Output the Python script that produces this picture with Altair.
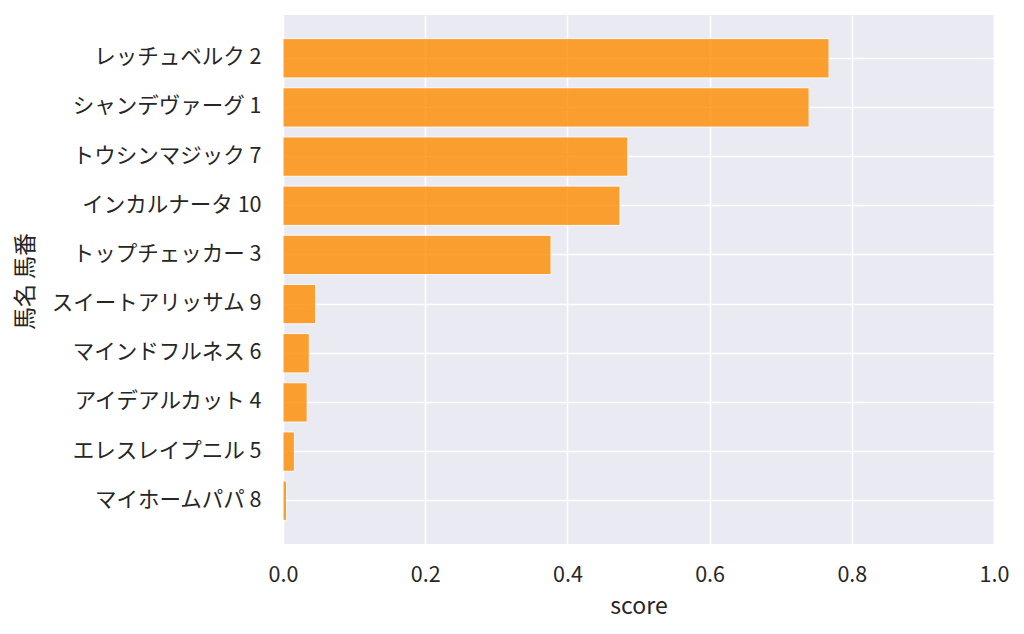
import altair as alt
import pandas as pd

names = ["レッチュベルク 2", "シャンデヴァーグ 1", "トウシンマジック 7", "インカルナータ 10",
         "トップチェッカー 3", "スイートアリッサム 9", "マインドフルネス 6", "アイデアルカット 4",
         "エレスレイプニル 5", "マイホームパパ 8"]
scores = [0.768, 0.740, 0.485, 0.474, 0.377, 0.046, 0.037, 0.034, 0.016, 0.005]

df = pd.DataFrame({"name": names, "score": scores})

FONT = "Noto Sans CJK JP"
TXT = "#262626"

chart = alt.Chart(df).mark_bar(
    color="#FF8C00", opacity=0.8, stroke="white", strokeWidth=1
).encode(
    x=alt.X("score:Q", title="score",
            scale=alt.Scale(domain=[0, 1], nice=False, zero=True),
            axis=alt.Axis(values=[0, 0.2, 0.4, 0.6, 0.8, 1.0], format=".1f",
                          grid=True, gridColor="white", gridWidth=1.6,
                          ticks=False, domain=False, labelPadding=20,
                          labelFlush=False, labelOverlap=False,
                          labelFontSize=21.5, labelColor=TXT, labelFont=FONT,
                          titleFontSize=23, titleColor=TXT, titleFont=FONT,
                          titleFontWeight="normal", titlePadding=10)),
    y=alt.Y("name:N", title="馬名 馬番", sort=None,
            scale=alt.Scale(paddingInner=0.2, paddingOuter=0.48),
            axis=alt.Axis(grid=True, gridColor="white", gridWidth=1.6, bandPosition=0.5,
                          ticks=False, domain=False, labelPadding=22, labelLimit=400,
                          labelFontSize=21.5, labelColor=TXT, labelFont=FONT,
                          titleFontSize=23, titleColor=TXT, titleFont=FONT,
                          titleFontWeight="normal", titleX=-258, titleY=266,
                          titleBaseline="middle", titleAngle=270)),
).properties(
    width=711, height=529,
    autosize=alt.AutoSizeParams(type="none"),
    padding={"left": 275, "top": 7, "right": 22, "bottom": 80},
).configure(
    background="white",
    view=alt.ViewConfig(fill="#EAEAF2", stroke=None),
)

chart.save("out.html", embed_options={"renderer": "svg", "actions": False})
